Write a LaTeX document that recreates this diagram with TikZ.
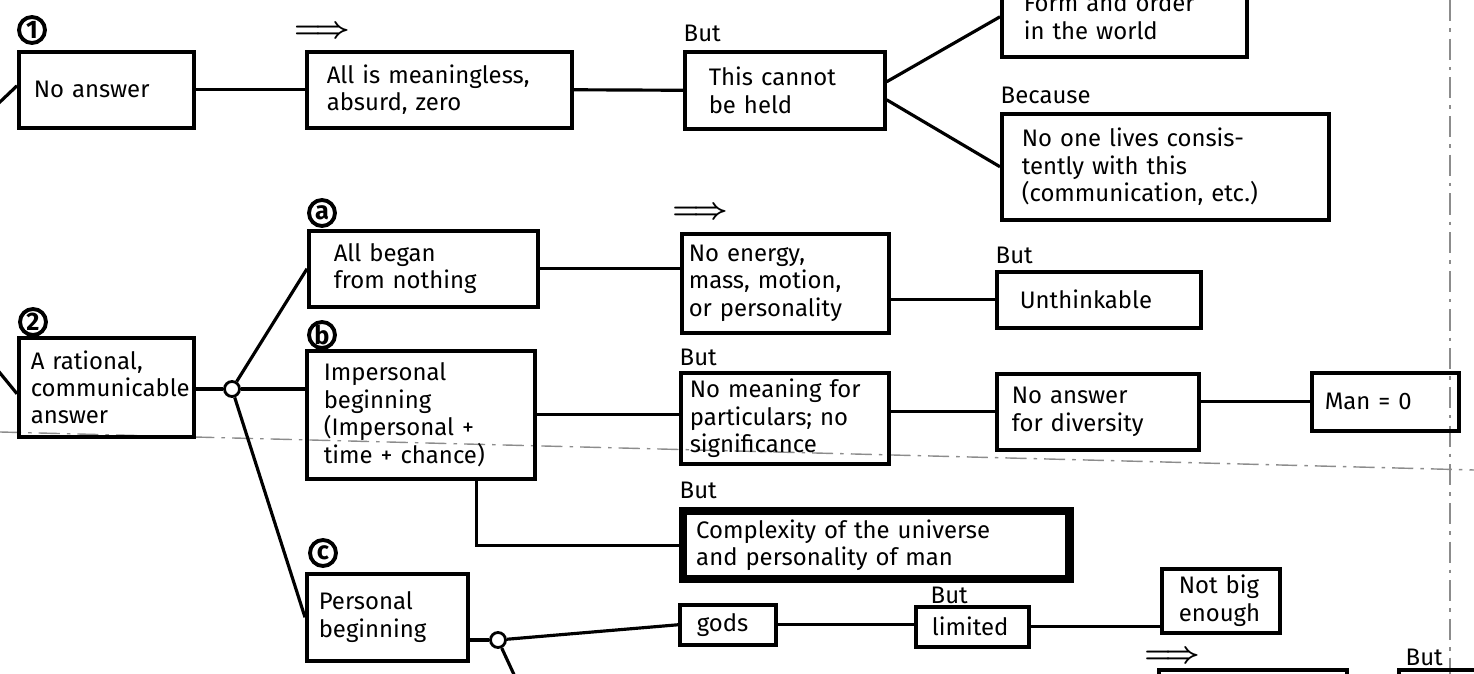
\documentclass[tikz,border=0pt]{standalone}
\usepackage{fontspec}
\newfontfamily\hand[WordSpace=2.1]{Fira Sans}
\usetikzlibrary{calc}

\tikzset{
  box/.style={draw, line width=1pt, anchor=north west, align=left, inner ysep=1pt, font=\hand\fontsize{6.8}{7.8}\selectfont},
  tag/.style={anchor=west, inner sep=0pt, font=\hand\fontsize{6.8}{7.8}\selectfont},
  sign/.style={inner sep=0pt, font=\boldmath\fontsize{8}{9}\selectfont},
  num/.style={circle, draw, line width=1.1pt, inner sep=0pt, minimum size=0.26cm, font=\hand\bfseries\fontsize{7.2}{8}\selectfont},
  knot/.style={circle, draw, line width=0.8pt, minimum size=0.15cm, inner sep=0pt},
  link/.style={line width=0.9pt},
  fold/.style={black!45, line width=0.4pt, dash pattern=on 6pt off 2pt on 1pt off 2pt}
}

\begin{document}
\begin{tikzpicture}[x=0.01cm, y=-0.01cm]
			%%%%% START %%%%%
			\useasboundingbox (0, 0) rectangle (1474, 674);
			\clip (0, 0) rectangle (1474, 674);
			
			\draw[fold] (0, 432) -- (1474, 470);
			\draw[fold] (1450, 0) -- (1450, 674);
			
			% first answer
			\node[num] (n1) at (32, 30) {1};
			\node[box, inner xsep=0.15cm, text width=1.45cm, minimum height=0.76cm] (na) at (17, 50) {No answer};
			\node[sign] (i1) at (322, 32) {$\Longrightarrow$};
			\node[box, inner xsep=0.2cm, text width=2.25cm, minimum height=0.76cm] (ml) at (305, 50) {All is meaningless,\\absurd, zero};
			\node[tag] (t1) at (683, 33) {But};
			\node[box, inner xsep=0.24cm, text width=1.52cm, minimum height=0.77cm] (hl) at (683, 50) {This cannot\\be held};
			\node[box, inner xsep=0.22cm, text width=2.01cm, minimum height=0.8cm] (fo) at (1000, -25) {Form and order\\in the world};
			\node[tag] (t2) at (1000, 95) {Because};
			\node[box, inner xsep=0.2cm, text width=2.87cm, minimum height=1.06cm] (nl) at (1000, 112) {No one lives consis-\\tently with this\\(communication, etc.)};
			
			% second answer
			\node[num] (n2) at (33, 322) {2};
			\node[box, inner xsep=0.12cm, text width=1.51cm, minimum height=0.99cm] (ra) at (17, 336) {A rational,\\communicable\\answer};
			\node[knot] (j1) at (232, 389) {};
			
			\node[num] (na1) at (322, 213) {a};
			\node[box, inner xsep=0.25cm, text width=1.79cm, minimum height=0.76cm] (a) at (307, 229) {All began\\from nothing};
			\node[sign] (i2) at (700, 213) {$\Longrightarrow$};
			\node[box, inner xsep=0.07cm, text width=1.93cm, minimum height=0.99cm] (en) at (680, 232) {No energy,\\mass, motion,\\or personality};
			\node[tag] (t3) at (995, 255) {But};
			\node[box, inner xsep=0.23cm, text width=1.58cm, minimum height=0.56cm] (un) at (995, 270) {Unthinkable};
			
			\node[num] (nb1) at (322, 335) {b};
			\node[box, inner xsep=0.17cm, text width=1.94cm, minimum height=1.28cm] (b) at (305, 349) {Impersonal\\beginning\\(Impersonal +\\time + chance)};
			\node[tag] (t4) at (679, 357) {But};
			\node[box, inner xsep=0.09cm, text width=1.9cm, minimum height=0.91cm] (mn) at (679, 371) {No meaning for\\particulars; no\\significance};
			\node[box, inner xsep=0.15cm, text width=1.72cm, minimum height=0.76cm] (dv) at (995, 372) {No answer\\for diversity};
			\node[box, inner xsep=0.13cm, text width=1.21cm, minimum height=0.58cm] (mz) at (1310, 371) {Man = 0};
			\node[tag] (t5) at (679, 490) {But};
			\node[box, line width=2.4pt, inner xsep=0.13cm, text width=3.6cm, minimum height=0.68cm] (cx) at (679, 507) {Complexity of the universe\\and personality of man};
			
			\node[num] (nc1) at (323, 553) {c};
			\node[box, inner xsep=0.12cm, text width=1.37cm, minimum height=0.87cm] (c) at (305, 572) {Personal\\beginning};
			\node[knot] (j2) at (498, 640) {};
			\node[box, inner xsep=0.17cm, text width=0.62cm, minimum height=0.4cm] (gd) at (678, 603) {gods};
			\node[tag] (t6) at (930, 595) {But};
			\node[box, inner xsep=0.16cm, text width=0.81cm, minimum height=0.4cm] (lm) at (914, 605) {limited};
			\node[box, inner xsep=0.17cm, text width=0.84cm, minimum height=0.64cm] (nb) at (1160, 567) {Not big\\enough};
			\node[sign] (i3) at (1172, 657) {$\Longrightarrow$};
			\node[box, minimum width=1.88cm, minimum height=0.5cm] (p1) at (1157, 668) {};
			\node[tag] (t7) at (1405, 657) {But};
			\node[box, minimum width=1cm, minimum height=0.5cm] (p2) at (1397, 668) {};
			
			\coordinate (o1) at (-40, 140);
			\coordinate (o2) at (-40, 324);
			\coordinate (o3) at (535, 720);
			
			% connectors
			\draw[link] (o1) -- ([yshift=0.04cm]na.west);
			\draw[link] (na.east) -- (ml.west);
			\draw[link] (ml.east) -- (hl.west);
			\draw[link] ([yshift=0.085cm]hl.east) -- (fo.west);
			\draw[link] ([yshift=-0.095cm]hl.east) -- (nl.west);
			
			\draw[link] (o2) -- ([yshift=-0.065cm]ra.west);
			\draw[link] (ra.east |- j1) -- (j1);
			\draw[link] (j1) -- (a.west);
			\draw[link] (j1) -- (j1 -| b.west);
			\draw[link] (j1) -- (c.west);
			\draw[link] (a.east) -- (a.east -| en.west);
			\draw[link] (un.west -| en.east) -- (un.west);
			\draw[link] (b.east) -- (b.east -| mn.west);
			\draw[link] (dv.west -| mn.east) -- (dv.west);
			\draw[link] (mz.west -| dv.east) -- (mz.west);
			\draw[link] ([xshift=-0.6cm]b.south east) |- (cx.west);
			
			\draw[link] (c.east |- j2) -- (j2);
			\draw[link] (j2) -- (gd.west);
			\draw[link] (j2) -- (o3);
			\draw[link] (gd.east) -- (gd.east -| lm.west);
			\draw[link] (lm.east) -- (lm.east -| nb.west);
			
			%%%%% END %%%%%
\end{tikzpicture}
\end{document}
